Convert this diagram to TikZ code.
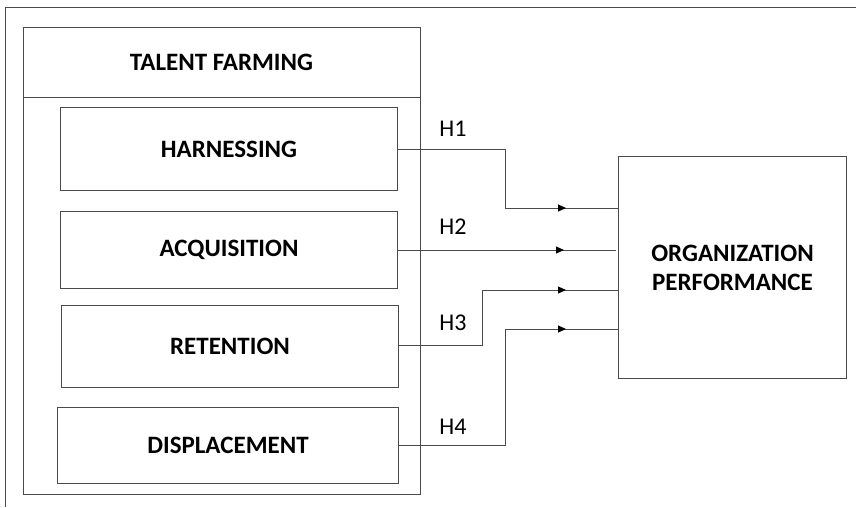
\documentclass[tikz,border=0pt]{standalone}
\usepackage{fontspec}
\setmainfont{Carlito}
\usetikzlibrary{decorations.markings,arrows.meta}
\definecolor{linegray}{HTML}{4A4A4A}
\tikzset{
  box/.style={draw=linegray, line width=1pt, anchor=north west, inner sep=0pt},
  boxtext/.style={font=\fontsize{25}{29}\selectfont\bfseries},
  hlabel/.style={font=\fontsize{24}{28}\selectfont},
  conn/.style={draw=linegray, line width=1pt,
    postaction={decorate},
    decoration={markings, mark=at position -52pt with {\arrow[black]{Triangle[length=8pt,width=7pt]}}}},
}
\begin{document}
\begin{tikzpicture}[x=1pt,y=-1pt]
\useasboundingbox (0,0) rectangle (856,507);
% page frame
\draw[linegray, line width=1pt] (5,507) -- (5,7) -- (856,7);
% talent farming container
\node[box, minimum width=397pt, minimum height=467pt] (tf) at (23,27) {};
\coordinate (hdl) at (23,97);
\coordinate (hdr) at (420,97);
\draw[linegray, line width=1pt] (hdl) -- (hdr);
\node[boxtext] (tft) at (221.5,62) {TALENT FARMING};
% inner boxes
\node[box, minimum width=337pt, minimum height=83pt] (harn) at (60,107) {};
\node[boxtext] at (harn.center) {HARNESSING};
\node[box, minimum width=337pt, minimum height=77pt] (acq) at (60,211) {};
\node[boxtext] at (acq.center) {ACQUISITION};
\node[box, minimum width=337pt, minimum height=82pt] (ret) at (61,305) {};
\node[boxtext] at (ret.center) {RETENTION};
\node[box, minimum width=341pt, minimum height=76pt] (disp) at (57,407) {};
\node[boxtext] at (disp.center) {DISPLACEMENT};
% organization performance
\node[box, minimum width=228pt, minimum height=222pt] (org) at (618,156) {};
\node[boxtext, align=center] (orgt) at (org.center) {ORGANIZATION\\PERFORMANCE};
% connector coordinates
\coordinate (e1) at (618,208);
\coordinate (e2) at (616,250);
\coordinate (e3) at (618,290);
\coordinate (e4) at (618,329);
\coordinate (k1) at (505,149);
\coordinate (k3) at (482,345);
\coordinate (k4) at (505,445);
% connectors
\path[conn] (harn.east) -- (k1) |- (e1);
\path[conn] (acq.east |- e2) -- (e2);
\path[conn] (ret.east |- k3) -- (k3) |- (e3);
\path[conn] (disp.east |- k4) -- (k4) |- (e4);
% labels
\node[hlabel] (h1) at (453,129) {H1};
\node[hlabel] (h2) at (453,227) {H2};
\node[hlabel] (h3) at (453,323) {H3};
\node[hlabel] (h4) at (453,427) {H4};
\end{tikzpicture}
\end{document}
